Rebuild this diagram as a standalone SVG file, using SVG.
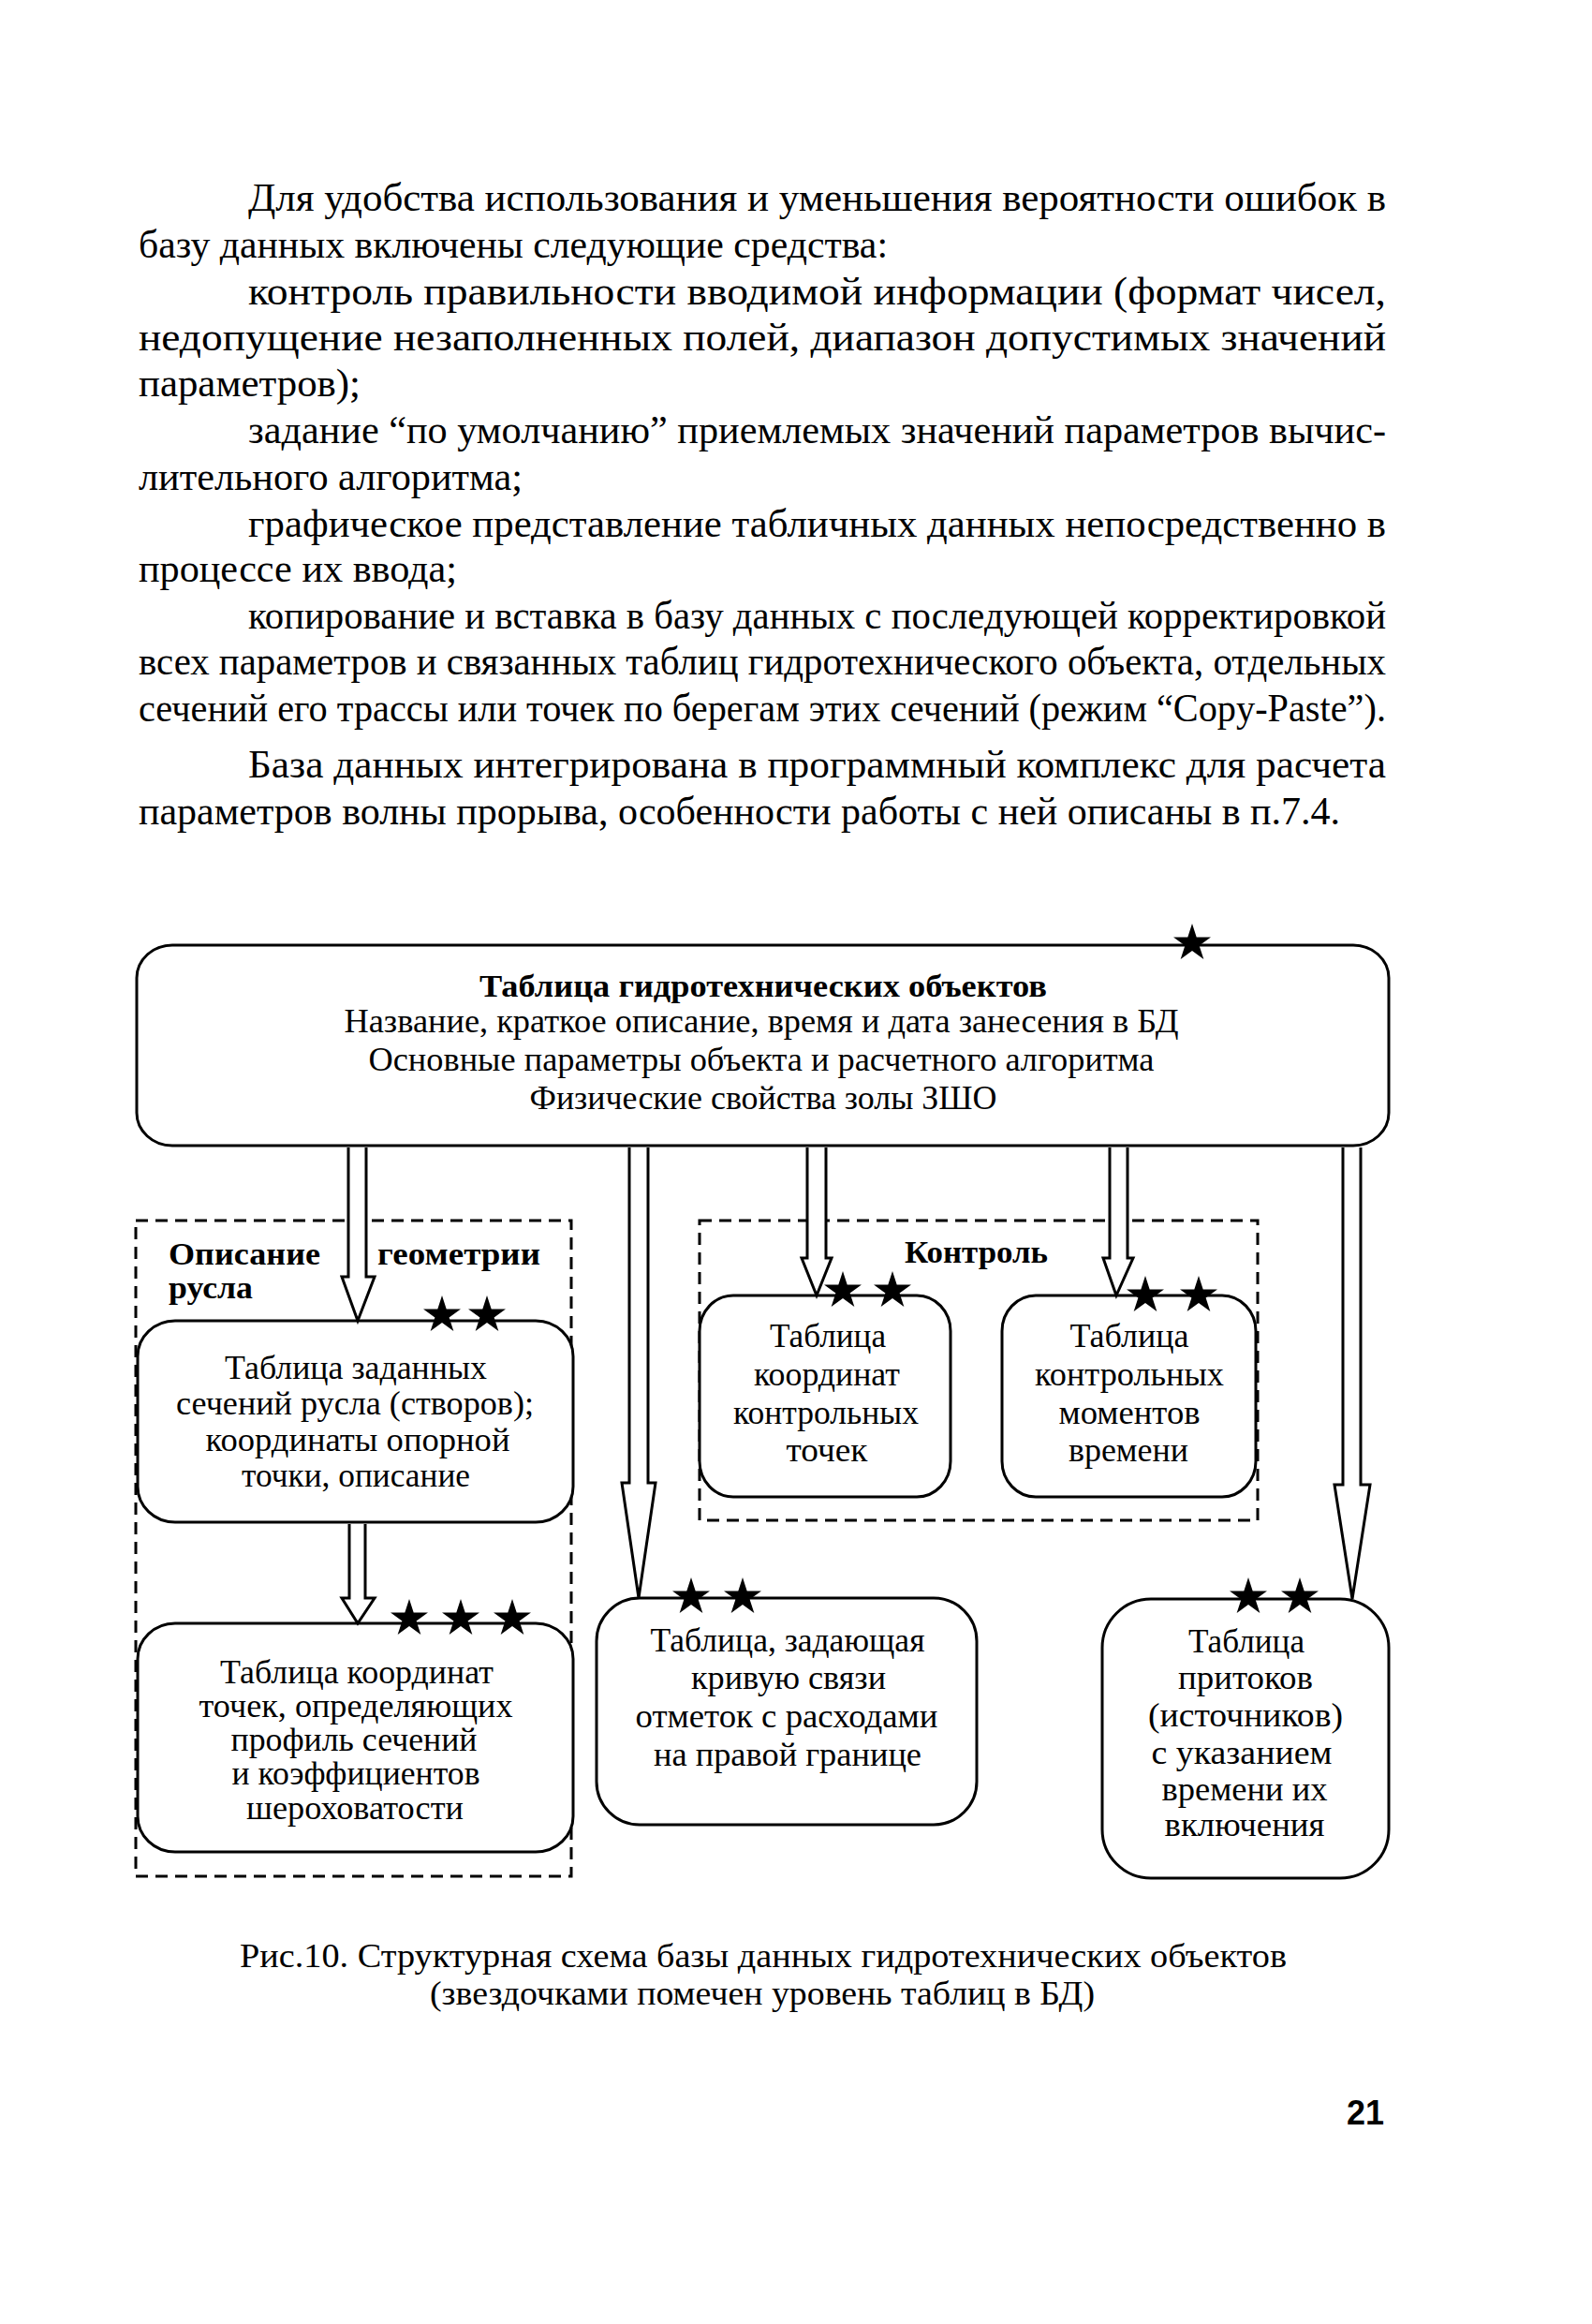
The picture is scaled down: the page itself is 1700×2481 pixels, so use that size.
<svg xmlns="http://www.w3.org/2000/svg" xmlns:xlink="http://www.w3.org/1999/xlink" width="1700" height="2481" viewBox="0 0 1700 2481">
<style>
.body{font-family:"Liberation Serif","Times New Roman",serif;font-size:42px;fill:#000}
.t{font-family:"Liberation Serif","Times New Roman",serif;font-size:35px;fill:#000;text-anchor:middle}
.tb{font-family:"Liberation Serif","Times New Roman",serif;font-size:33px;font-weight:bold;fill:#000;text-anchor:middle}
.lbl{font-family:"Liberation Serif","Times New Roman",serif;font-size:34px;font-weight:bold;fill:#000}
.cap{font-family:"Liberation Serif","Times New Roman",serif;font-size:35px;fill:#000}
.pg{font-family:"Liberation Sans",Arial,sans-serif;font-size:36px;font-weight:bold;fill:#000}
.box{fill:#fff;stroke:#000;stroke-width:3}
.grp{fill:none;stroke:#000;stroke-width:3;stroke-dasharray:13 8}
.arr{fill:#fff;stroke:#000;stroke-width:3;stroke-linejoin:miter}
.star{fill:#000}
</style>
<defs>
<path id="star" d="M0,-21 L4.7,-6.47 L19.97,-6.49 L7.61,2.47 L12.34,16.99 L0,8 L-12.34,16.99 L-7.61,2.47 L-19.97,-6.49 L-4.7,-6.47 Z"/>
</defs>
<rect width="1700" height="2481" fill="#fff"/>

<g id="body-text">
<text class="body" x="265" y="225" textLength="1215" lengthAdjust="spacingAndGlyphs">Для удобства использования и уменьшения вероятности ошибок в</text>
<text class="body" x="148" y="275" textLength="800" lengthAdjust="spacingAndGlyphs">базу данных включены следующие средства:</text>
<text class="body" x="265" y="325" textLength="1215" lengthAdjust="spacingAndGlyphs">контроль правильности вводимой информации (формат чисел,</text>
<text class="body" x="148" y="374" textLength="1332" lengthAdjust="spacingAndGlyphs">недопущение незаполненных полей, диапазон допустимых значений</text>
<text class="body" x="148" y="423" textLength="237" lengthAdjust="spacingAndGlyphs">параметров);</text>
<text class="body" x="265" y="473" textLength="1215" lengthAdjust="spacingAndGlyphs">задание “по умолчанию” приемлемых значений параметров вычис-</text>
<text class="body" x="148" y="523" textLength="410" lengthAdjust="spacingAndGlyphs">лительного алгоритма;</text>
<text class="body" x="265" y="573" textLength="1215" lengthAdjust="spacingAndGlyphs">графическое представление табличных данных непосредственно в</text>
<text class="body" x="148" y="621" textLength="340" lengthAdjust="spacingAndGlyphs">процессе их ввода;</text>
<text class="body" x="265" y="671" textLength="1215" lengthAdjust="spacingAndGlyphs">копирование и вставка в базу данных с последующей корректировкой</text>
<text class="body" x="148" y="720" textLength="1332" lengthAdjust="spacingAndGlyphs">всех параметров и связанных таблиц гидротехнического объекта, отдельных</text>
<text class="body" x="148" y="770" textLength="1332" lengthAdjust="spacingAndGlyphs">сечений его трассы или точек по берегам этих сечений (режим “Copy-Paste”).</text>
<text class="body" x="265" y="830" textLength="1215" lengthAdjust="spacingAndGlyphs">База данных интегрирована в программный комплекс для расчета</text>
<text class="body" x="148" y="880" textLength="1283" lengthAdjust="spacingAndGlyphs">параметров волны прорыва, особенности работы с ней описаны в п.7.4.</text>
</g>

<g id="group-geometry">
<rect class="grp" x="145" y="1303" width="465" height="700"/>
<text class="lbl" x="180" y="1350" textLength="162" lengthAdjust="spacingAndGlyphs">Описание</text>
<text class="lbl" x="403" y="1350" textLength="174" lengthAdjust="spacingAndGlyphs">геометрии</text>
<text class="lbl" x="180" y="1386" textLength="90" lengthAdjust="spacingAndGlyphs">русла</text>
</g>

<g id="group-control">
<rect class="grp" x="747" y="1303" width="596" height="320"/>
<text class="lbl" x="966" y="1348" textLength="153" lengthAdjust="spacingAndGlyphs">Контроль</text>
</g>

<g id="node-objects">
<rect class="box" x="146" y="1009" width="1337" height="214" rx="38" ry="35"/>
<text class="tb" x="815" y="1064" textLength="606" lengthAdjust="spacingAndGlyphs">Таблица гидротехнических объектов</text>
<text class="t" x="813" y="1102" textLength="891" lengthAdjust="spacingAndGlyphs">Название, краткое описание, время и дата занесения в БД</text>
<text class="t" x="813" y="1143" textLength="839" lengthAdjust="spacingAndGlyphs">Основные параметры объекта и расчетного алгоритма</text>
<text class="t" x="815" y="1184" textLength="499" lengthAdjust="spacingAndGlyphs">Физические свойства золы ЗШО</text>
</g>

<g id="node-sections">
<rect class="box" x="147" y="1410" width="465" height="215" rx="40" ry="38"/>
<text class="t" x="380" y="1472" textLength="280" lengthAdjust="spacingAndGlyphs">Таблица заданных</text>
<text class="t" x="379" y="1510" textLength="382" lengthAdjust="spacingAndGlyphs">сечений русла (створов);</text>
<text class="t" x="382" y="1549" textLength="325" lengthAdjust="spacingAndGlyphs">координаты опорной</text>
<text class="t" x="380" y="1587" textLength="244" lengthAdjust="spacingAndGlyphs">точки, описание</text>
</g>

<g id="node-profile">
<rect class="box" x="147" y="1733" width="465" height="244" rx="40" ry="38"/>
<text class="t" x="381" y="1797" textLength="292" lengthAdjust="spacingAndGlyphs">Таблица координат</text>
<text class="t" x="380" y="1833" textLength="335" lengthAdjust="spacingAndGlyphs">точек, определяющих</text>
<text class="t" x="378" y="1869" textLength="263" lengthAdjust="spacingAndGlyphs">профиль сечений</text>
<text class="t" x="380" y="1905" textLength="265" lengthAdjust="spacingAndGlyphs">и коэффициентов</text>
<text class="t" x="379" y="1942" textLength="232" lengthAdjust="spacingAndGlyphs">шероховатости</text>
</g>

<g id="node-control-points">
<rect class="box" x="747" y="1383" width="268" height="215" rx="36" ry="38"/>
<text class="t" x="884" y="1438" textLength="124" lengthAdjust="spacingAndGlyphs">Таблица</text>
<text class="t" x="883" y="1479" textLength="156" lengthAdjust="spacingAndGlyphs">координат</text>
<text class="t" x="882" y="1520" textLength="198" lengthAdjust="spacingAndGlyphs">контрольных</text>
<text class="t" x="883" y="1560" textLength="87" lengthAdjust="spacingAndGlyphs">точек</text>
</g>

<g id="node-control-times">
<rect class="box" x="1070" y="1383" width="271" height="215" rx="36" ry="38"/>
<text class="t" x="1206" y="1438" textLength="127" lengthAdjust="spacingAndGlyphs">Таблица</text>
<text class="t" x="1206" y="1479" textLength="202" lengthAdjust="spacingAndGlyphs">контрольных</text>
<text class="t" x="1206" y="1520" textLength="151" lengthAdjust="spacingAndGlyphs">моментов</text>
<text class="t" x="1205" y="1560" textLength="128" lengthAdjust="spacingAndGlyphs">времени</text>
</g>

<g id="node-rating-curve">
<rect class="box" x="637" y="1706" width="406" height="242" rx="46" ry="46"/>
<text class="t" x="841" y="1763" textLength="293" lengthAdjust="spacingAndGlyphs">Таблица, задающая</text>
<text class="t" x="842" y="1803" textLength="208" lengthAdjust="spacingAndGlyphs">кривую связи</text>
<text class="t" x="840" y="1844" textLength="323" lengthAdjust="spacingAndGlyphs">отметок с расходами</text>
<text class="t" x="841" y="1885" textLength="286" lengthAdjust="spacingAndGlyphs">на правой границе</text>
</g>

<g id="node-inflows">
<rect class="box" x="1177" y="1707" width="306" height="298" rx="52" ry="52"/>
<text class="t" x="1331" y="1764" textLength="124" lengthAdjust="spacingAndGlyphs">Таблица</text>
<text class="t" x="1330" y="1803" textLength="144" lengthAdjust="spacingAndGlyphs">притоков</text>
<text class="t" x="1330" y="1843" textLength="208" lengthAdjust="spacingAndGlyphs">(источников)</text>
<text class="t" x="1326" y="1883" textLength="193" lengthAdjust="spacingAndGlyphs">с указанием</text>
<text class="t" x="1329" y="1922" textLength="177" lengthAdjust="spacingAndGlyphs">времени их</text>
<text class="t" x="1329" y="1960" textLength="171" lengthAdjust="spacingAndGlyphs">включения</text>
</g>

<g id="connectors">
<path class="arr" d="M372,1225 V1363 H365 L382,1410 L400,1363 H391 V1225"/>
<path class="arr" d="M373,1627 V1706 H365 L382,1733 L400,1706 H390 V1627"/>
<path class="arr" d="M672,1225 V1583 H664 L682,1706 L700,1583 H692 V1225"/>
<path class="arr" d="M862,1225 V1343 H856 L872,1383 L888,1343 H882 V1225"/>
<path class="arr" d="M1185,1225 V1343 H1178 L1192,1383 L1210,1343 H1204 V1225"/>
<path class="arr" d="M1434,1225 V1585 H1425 L1444,1707 L1463,1585 H1453 V1225"/>
</g>

<g id="stars">
<use href="#star" x="1273" y="1007"/>
<use href="#star" x="472" y="1404"/>
<use href="#star" x="520" y="1404"/>
<use href="#star" x="437" y="1728"/>
<use href="#star" x="492" y="1728"/>
<use href="#star" x="547" y="1728"/>
<use href="#star" x="900" y="1378"/>
<use href="#star" x="953" y="1378"/>
<use href="#star" x="1223" y="1383"/>
<use href="#star" x="1280" y="1383"/>
<use href="#star" x="738" y="1705"/>
<use href="#star" x="793" y="1705"/>
<use href="#star" x="1333" y="1705"/>
<use href="#star" x="1388" y="1705"/>
</g>

<g id="caption">
<text class="cap" x="256" y="2100" textLength="1118" lengthAdjust="spacingAndGlyphs">Рис.10. Структурная схема базы данных гидротехнических объектов</text>
<text class="cap" x="459" y="2140" textLength="710" lengthAdjust="spacingAndGlyphs">(звездочками помечен уровень таблиц в БД)</text>
</g>
<text class="pg" x="1438" y="2268">21</text>
</svg>
